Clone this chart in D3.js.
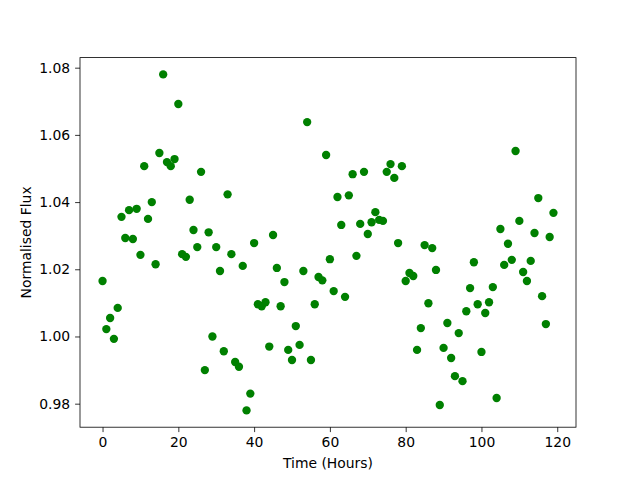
<!DOCTYPE html>
<html>
<head>
<meta charset="utf-8">
<script src="https://d3js.org/d3.v7.min.js"></script>
<style>
  body { margin: 0; background: #fff; }
  svg { font-family: "DejaVu Sans", sans-serif; }
</style>
</head>
<body>
<svg width="640" height="480"></svg>
<script>

var hours = [
  0, 1, 2, 3, 4, 5, 6, 7, 8, 9, 10, 11, 12, 13, 14, 15, 16, 17, 18, 19,
  20, 21, 22, 23, 24, 25, 26, 27, 28, 29, 30, 31, 32, 33, 34, 35, 36, 37, 38, 39,
  40, 41, 42, 43, 44, 45, 46, 47, 48, 49, 50, 51, 52, 53, 54, 55, 56, 57, 58, 59,
  60, 61, 62, 63, 64, 65, 66, 67, 68, 69, 70, 71, 72, 73, 74, 75, 76, 77, 78, 79,
  80, 81, 82, 83, 84, 85, 86, 87, 88, 89, 90, 91, 92, 93, 94, 95, 96, 97, 98, 99,
  100, 101, 102, 103, 104, 105, 106, 107, 108, 109, 110, 111, 112, 113, 114, 115, 116, 117, 118, 119
];

var flux = [
  1.0165, 1.0022, 1.0055, 0.9993, 1.0085, 1.0356, 1.0293, 1.0376, 1.0290, 1.0380,
  1.0243, 1.0507, 1.0350, 1.0400, 1.0215, 1.0546, 1.0780, 1.0519, 1.0507, 1.0528,
  1.0692, 1.0245, 1.0237, 1.0407, 1.0317, 1.0266, 1.0490, 0.9900, 1.0310, 1.0000,
  1.0266, 1.0195, 0.9956, 1.0423, 1.0245, 0.9924, 0.9910, 1.0210, 0.9780, 0.9830,
  1.0278, 1.0096, 1.0090, 1.0102, 0.9970, 1.0302, 1.0204, 1.0090, 1.0162, 0.9960,
  0.9930, 1.0031, 0.9975, 1.0195, 1.0638, 0.9930, 1.0096, 1.0177, 1.0167, 1.0540,
  1.0230, 1.0135, 1.0415, 1.0332, 1.0118, 1.0420, 1.0483, 1.0240, 1.0335, 1.0490,
  1.0305, 1.0340, 1.0370, 1.0347, 1.0344, 1.0490, 1.0513, 1.0472, 1.0278, 1.0507,
  1.0165, 1.0189, 1.0180, 0.9960, 1.0025, 1.0272, 1.0099, 1.0263, 1.0198, 0.9796,
  0.9966, 1.0040, 0.9936, 0.9882, 1.0010, 0.9867, 1.0075, 1.0144, 1.0221, 1.0096,
  0.9954, 1.0070, 1.0102, 1.0147, 0.9817, 1.0320, 1.0213, 1.0276, 1.0228, 1.0552,
  1.0344, 1.0192, 1.0165, 1.0225, 1.0308, 1.0412, 1.0120, 1.0037, 1.0296, 1.0368
];

var xTicks = [0, 20, 40, 60, 80, 100, 120];
var yTicks = [0.98, 1.00, 1.02, 1.04, 1.06, 1.08];

var svg = d3.select("svg"),
    margin = {left: 80, right: 64, top: 57.6, bottom: 52.8},
    width = 640 - margin.left - margin.right,
    height = 480 - margin.top - margin.bottom;

var g = svg.append("g").attr("transform", "translate(" + margin.left + "," + margin.top + ")");

// matplotlib style 5% padding around the data
var xExt = d3.extent(hours), yExt = d3.extent(flux);
var xPad = (xExt[1] - xExt[0]) * 0.05, yPad = (yExt[1] - yExt[0]) * 0.05;

var x = d3.scaleLinear()
    .domain([xExt[0] - xPad, xExt[1] + xPad])
    .range([0, width]);

var y = d3.scaleLinear()
    .domain([yExt[0] - yPad, yExt[1] + yPad])
    .range([height, 0]);

var xAxis = g.append("g")
    .attr("transform", "translate(0," + height + ")")
    .call(d3.axisBottom(x).tickValues(xTicks).tickSize(4.9).tickPadding(4.9).tickFormat(d3.format("d")));

var yAxis = g.append("g")
    .call(d3.axisLeft(y).tickValues(yTicks).tickSize(4.9).tickPadding(4.9).tickFormat(d3.format(".2f")));

[xAxis, yAxis].forEach(function(a) {
  a.select(".domain").remove();
  a.selectAll(".tick line").attr("stroke", "#000").attr("stroke-width", 0.8);
  a.selectAll(".tick text").attr("fill", "#000").style("font-size", "13.9px")
      .style("font-family", "DejaVu Sans");
});

g.selectAll("circle")
    .data(hours)
    .enter().append("circle")
    .attr("cx", function(d) { return x(d); })
    .attr("cy", function(d, i) { return y(flux[i]); })
    .attr("r", 4.17)
    .attr("fill", "#008000");

g.append("rect")
    .attr("width", width)
    .attr("height", height)
    .attr("fill", "none")
    .attr("stroke", "#000")
    .attr("stroke-width", 0.8);

svg.append("text")
    .attr("x", margin.left + width / 2)
    .attr("y", 468)
    .attr("text-anchor", "middle")
    .style("font-size", "13.9px")
    .text("Time (Hours)");

svg.append("text")
    .attr("transform", "translate(31," + (margin.top + height / 2) + ") rotate(-90)")
    .attr("text-anchor", "middle")
    .style("font-size", "13.9px")
    .text("Normalised Flux");

</script>
</body>
</html>
